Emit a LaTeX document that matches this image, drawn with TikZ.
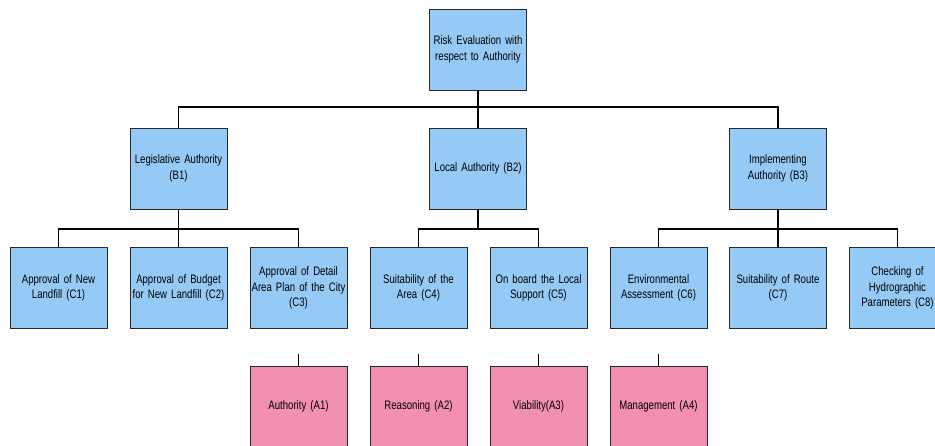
\documentclass[tikz,border=0pt]{standalone}
\usepackage{fontspec}
\setmainfont{Liberation Sans}[FakeStretch=0.78,WordSpace=0.7]
\definecolor{boxblue}{RGB}{150,202,246}
\definecolor{boxpink}{RGB}{243,143,176}
\definecolor{edge}{RGB}{40,40,40}
\begin{document}
\begin{tikzpicture}[x=1pt,y=-1pt,
  box/.style={draw=edge, line width=0.9pt, minimum width=97pt, minimum height=81pt,
    text width=95pt, align=center, inner sep=1pt, font=\fontsize{12.3}{15.5}\selectfont},
  bbox/.style={box, fill=boxblue},
  pbox/.style={box, fill=boxpink},
  conn/.style={draw=black, line width=1.8pt}]
\useasboundingbox (0,0) rectangle (935,445);
\clip (0,0) rectangle (935,445);
% top
\node[bbox] (T) at (478,49.5) {Risk Evaluation with\\respect to Authority};
% level B
\node[bbox] (B1) at (178.5,168.5) {Legislative Authority\\(B1)};
\node[bbox] (B2) at (478,168.5) {Local Authority (B2)};
\node[bbox] (B3) at (778,168.5) {Implementing\\Authority (B3)};
% level C
\node[bbox] (C1) at (58.5,288) {Approval of New\\Landfill (C1)};
\node[bbox] (C2) at (178.5,288) {Approval of Budget\\for New Landfill (C2)};
\node[bbox] (C3) at (298.5,288) {Approval of Detail\\Area Plan of the City\\(C3)};
\node[bbox] (C4) at (418.5,288) {Suitability of the\\Area (C4)};
\node[bbox] (C5) at (538.5,288) {On board the Local\\Support (C5)};
\node[bbox] (C6) at (658.5,288) {Environmental\\Assessment (C6)};
\node[bbox] (C7) at (778,288) {Suitability of Route\\(C7)};
\node[bbox] (C8) at (897.5,288) {Checking of\\Hydrographic\\Parameters (C8)};
% level A
\node[pbox] (A1) at (298.5,406.5) {Authority (A1)};
\node[pbox] (A2) at (418.5,406.5) {Reasoning (A2)};
\node[pbox] (A3) at (538.5,406.5) {Viability(A3)};
\node[pbox] (A4) at (658.5,406.5) {Management (A4)};
% junctions
\coordinate (j0) at (478,107);
\coordinate (j1) at (178.5,229);
\coordinate (j2) at (478,229);
\coordinate (j3) at (778,229);
\coordinate (s1) at (298.5,354);
\coordinate (s2) at (418.5,354);
\coordinate (s3) at (538.5,354);
\coordinate (s4) at (658.5,354);
% connectors
\draw[conn] (T.south) -- (j0);
\draw[conn] (B1.north) |- (j0) -| (B3.north);
\draw[conn] (j0) -- (B2.north);
\draw[conn] (B1.south) -- (j1);
\draw[conn] (C1.north) |- (j1) -| (C3.north);
\draw[conn] (j1) -- (C2.north);
\draw[conn] (B2.south) -- (j2);
\draw[conn] (C4.north) |- (j2) -| (C5.north);
\draw[conn] (B3.south) -- (j3);
\draw[conn] (C6.north) |- (j3) -| (C8.north);
\draw[conn] (j3) -- (C7.north);
\draw[conn] (s1) -- (A1.north);
\draw[conn] (s2) -- (A2.north);
\draw[conn] (s3) -- (A3.north);
\draw[conn] (s4) -- (A4.north);
\end{tikzpicture}
\end{document}
